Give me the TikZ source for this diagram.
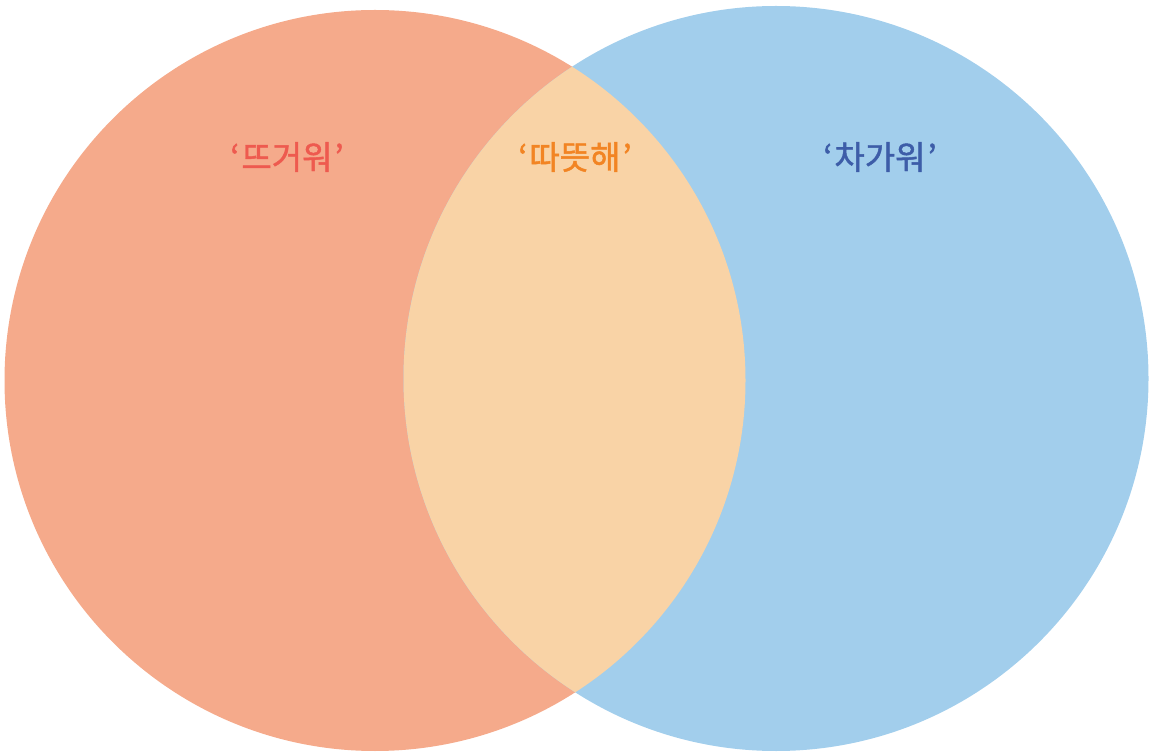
\documentclass[tikz,border=0pt]{standalone}
\usepackage{fontspec}
\usepackage{xcolor}
\usetikzlibrary{positioning}
\newfontfamily\kofont[FakeBold=1.4]{Noto Sans CJK KR}
\definecolor{hotfill}{HTML}{F5AA8B}
\definecolor{coldfill}{HTML}{A2CEEC}
\definecolor{warmfill}{HTML}{F9D3A6}
\definecolor{hottext}{HTML}{EE5A4F}
\definecolor{warmtext}{HTML}{F28423}
\definecolor{coldtext}{HTML}{3D5DA8}
\newcommand{\quoted}[1]{‘\kern2pt#1\kern2pt’}
\begin{document}
\begin{tikzpicture}[x=1pt, y=1pt,
    word/.style={font=\kofont\fontsize{33}{38}\selectfont, inner sep=0pt}]
                \useasboundingbox (0,0) rectangle (1151,753);
                % circles
                \fill[hotfill] (375,372.5) circle (370.5);
                \fill[coldfill] (776,374.5) circle (372.5);
                \begin{scope}
                    \clip (375,372.5) circle (370.5);
                    \fill[warmfill] (776,374.5) circle (372.5);
                \end{scope}
                % labels
                \node[word, text=hottext] (hot) at (287,596) {\quoted{뜨거워}};
                \node[word, text=warmtext] (warm) at (575,596) {\quoted{따뜻해}};
                \node[word, text=coldtext] (cold) at (880,596) {\quoted{차가워}};
            \end{tikzpicture}
\end{document}
